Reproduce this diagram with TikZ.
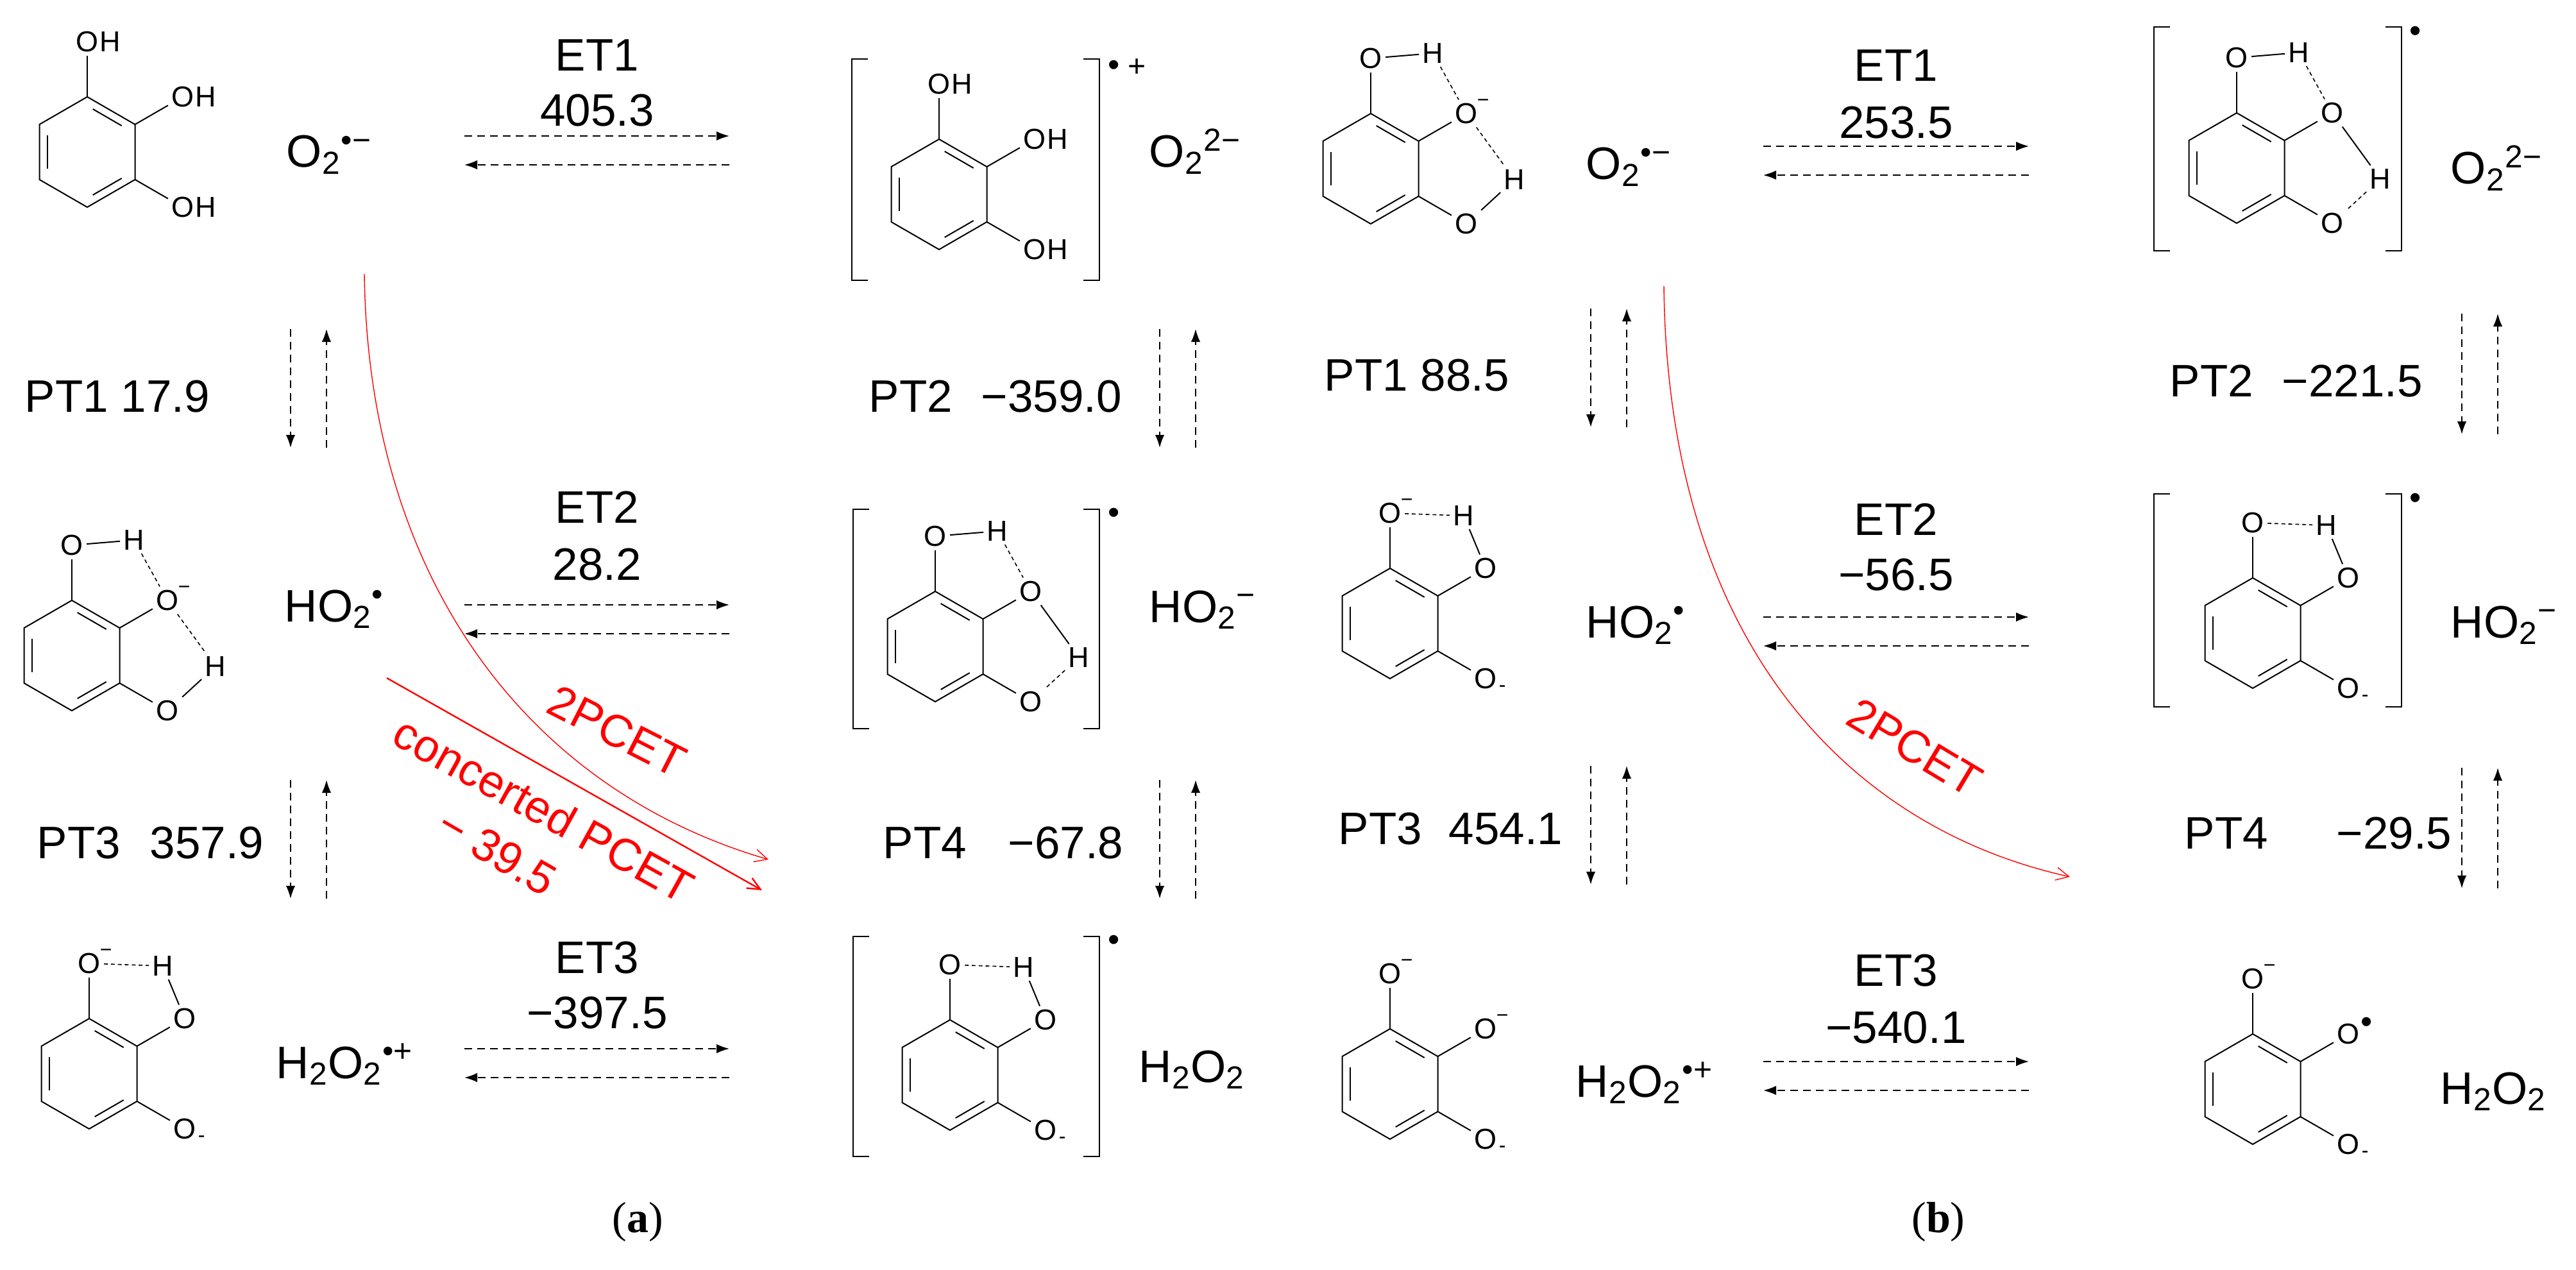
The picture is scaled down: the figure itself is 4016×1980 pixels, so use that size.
\documentclass[tikz,border=0pt]{standalone}
\usepackage{fontspec}
\setmainfont{Liberation Sans}
\newfontfamily\serifrm{Liberation Serif}
\usetikzlibrary{calc,arrows.meta}
\tikzset{
 bond/.style={line width=0.5pt},
 atom/.style={font=\fontsize{11.25}{12}\selectfont, inner sep=1.2pt},
 hatom/.style={font=\fontsize{11.25}{12}\selectfont, inner sep=0pt, anchor=base west, xshift=-1.2pt},
 big/.style={font=\fontsize{17.75}{20}\selectfont, inner sep=0pt},
 dasharr/.style={dash pattern=on 3pt off 2pt, line width=0.45pt, -{Latex[length=5pt,width=3.6pt]}},
 hb/.style={dash pattern=on 1.5pt off 1.2pt, line width=0.4pt},
 chg/.style={font=\fontsize{8}{8}\selectfont, inner sep=0pt},
 dot/.style={font=\fontsize{13}{13}\selectfont, inner sep=0pt},
 brk/.style={line width=0.5pt},
 redtxt/.style={big, text=red},
}
\newcommand\benz[3]{%
 \coordinate (#1t) at (#2,#3-86);
 \coordinate (#1ur) at (#2+74.5,#3-43);
 \coordinate (#1lr) at (#2+74.5,#3+43);
 \coordinate (#1b) at (#2,#3+86);
 \coordinate (#1ll) at (#2-74.5,#3+43);
 \coordinate (#1ul) at (#2-74.5,#3-43);
 \coordinate (#1T) at (#2,#3-172);
 \coordinate (#1R) at (#2+149,#3-86);
 \coordinate (#1S) at (#2+149,#3+86);
 \draw[bond] (#1t)--(#1ur)--(#1lr)--(#1b)--(#1ll)--(#1ul)--cycle;
 \draw[bond] (#2+8.7,#3-67)--(#2+53.7,#3-41);
 \draw[bond] (#2+53.7,#3+41)--(#2+8.7,#3+67);
 \draw[bond] (#2-62.4,#3+26)--(#2-62.4,#3-26);
}
\newcommand\oxy[1]{%
 \node[atom] (#1o1) at (#1T) {O};
 \node[atom] (#1o2) at (#1R) {O};
 \node[atom] (#1o3) at (#1S) {O};
 \draw[bond] (#1t)--(#1o1);
 \draw[bond] (#1ur)--(#1o2);
 \draw[bond] (#1lr)--(#1o3);
}
\newcommand\supm[2]{\node[chg] at ($(#1.east)+(3,-16)$) {#2};}
\newcommand\supdot[1]{\node[dot] at ($(#1.east)+(5,-14)$) {•};}
\newcommand\subm[1]{\node[chg] at ($(#1.east)+(3,16)$) {-};}
\newcommand\molOH[3]{\benz{#1}{#2}{#3}\oxy{#1}%
 \node[hatom] at (#1o1.base east) {H};
 \node[hatom] at (#1o2.base east) {H};
 \node[hatom] at (#1o3.base east) {H};}
\newcommand\molC[4]{\benz{#1}{#2}{#3}\oxy{#1}%
 \node[atom] (#1h1) at ($(#1o1)+(97,-8)$) {H};
 \node[atom] (#1h2) at ($(#1o2)+(75,103)$) {H};
 \draw[bond] (#1o1)--(#1h1);
 \draw[hb] (#1h1)--(#1o2);
 \ifnum#4=0
  \supm{#1o2}{−}
  \draw[hb] (#1o2)--(#1h2);
  \draw[bond] (#1h2)--(#1o3);
 \else
  \draw[bond] (#1o2)--(#1h2);
  \draw[hb] (#1h2)--(#1o3);
 \fi}
\newcommand\molE[4]{\benz{#1}{#2}{#3}\oxy{#1}%
 \node[atom] (#1h1) at ($(#1o1)+(115,4)$) {H};
 \draw[hb] (#1o1)--(#1h1);
 \draw[bond] (#1h1)--(#1o2);
 \ifnum#4=0 \supm{#1o1}{−}\fi
 \subm{#1o3}}
\newcommand\brackets[4]{%
 \draw[brk] (#1+25,#3)--(#1,#3)--(#1,#4)--(#1+25,#4);
 \draw[brk] (#2-25,#3)--(#2,#3)--(#2,#4)--(#2-25,#4);}
\newcommand\vpair[4]{%
 \coordinate (#1a) at (#2,#3); \coordinate (#1b) at (#2,#4);
 \coordinate (#1c) at (#2+56,#4); \coordinate (#1d) at (#2+56,#3);
 \draw[dasharr] (#1a)--(#1b); \draw[dasharr] (#1c)--(#1d);}
\newcommand\hpair[4]{%
 \coordinate (#1a) at (#2,#4); \coordinate (#1b) at (#3,#4);
 \coordinate (#1c) at (#3,#4+45); \coordinate (#1d) at (#2,#4+45);
 \draw[dasharr] (#1a)--(#1b); \draw[dasharr] (#1c)--(#1d);}
\begin{document}
\begin{tikzpicture}[x=0.25pt,y=-0.25pt]
\useasboundingbox (0,0) rectangle (4016,1980);
% ---------- panel a ----------
\molOH{mA}{136}{237}
\molOH{mB}{1464}{303}
\brackets{1328}{1714}{92}{437}
\node[dot] at (1737,106) {•}; \node[font=\fontsize{12}{12}\selectfont,inner sep=0] at (1772,106) {+};
\molC{mC}{112}{1022}{0}
\molC{mD}{1458}{1008}{1}
\brackets{1330}{1714}{794}{1136}
\node[dot] at (1737,804) {•};
\molE{mE}{139}{1674}{0}
\molE{mF}{1481}{1676}{1}
\brackets{1330}{1714}{1460}{1803}
\node[dot] at (1737,1470) {•};
% species a
\node[big,anchor=base west] (sa1) at (446,261) {O\textsubscript{2}\textsuperscript{•−}};
\node[big,anchor=base west] (sa2) at (443,969) {HO\textsubscript{2}\textsuperscript{•}};
\node[big,anchor=base west] (sa3) at (430,1681) {H\textsubscript{2}O\textsubscript{2}\textsuperscript{•+}};
\node[big,anchor=base west] (sa4) at (1791,261) {O\textsubscript{2}\textsuperscript{2−}};
\node[big,anchor=base west] (sa5) at (1791,970) {HO\textsubscript{2}\textsuperscript{−}};
\node[big,anchor=base west] (sa6) at (1775,1687) {H\textsubscript{2}O\textsubscript{2}};
% ET a
\node[big] (eta1) at (931,86) {ET1}; \node[big] (eva1) at (931,172) {405.3};
\node[big] (eta2) at (931,791) {ET2}; \node[big] (eva2) at (931,880) {28.2};
\node[big] (eta3) at (931,1493) {ET3}; \node[big] (eva3) at (931,1579) {−397.5};
\hpair{ha1}{724}{1137}{212}
\hpair{ha2}{724}{1137}{943}
\hpair{ha3}{724}{1137}{1635}
% PT a
\node[big,anchor=base west] (pa1) at (38,642) {PT1 17.9};
\node[big,anchor=base west] (pa2) at (1354,642) {PT2};
\node[big,anchor=base west] (pa2v) at (1529,642) {−359.0};
\node[big,anchor=base west] (pa3) at (57,1338) {PT3};
\node[big,anchor=base west] (pa3v) at (233,1338) {357.9};
\node[big,anchor=base west] (pa4) at (1376,1338) {PT4};
\node[big,anchor=base west] (pa4v) at (1571,1338) {−67.8};
\vpair{va1}{453}{513}{698}
\vpair{va2}{1808}{513}{698}
\vpair{va3}{453}{1216}{1401}
\vpair{va4}{1808}{1216}{1401}
% red a
\coordinate (ra0) at (568,427); \coordinate (ra1) at (1198,1340);
\draw[red,line width=0.35pt,-{Straight Barb[length=5pt,width=5pt]}] (ra0) .. controls (574,900) and (820,1230) .. (ra1);
\coordinate (sa0) at (603,1057); \coordinate (sb0) at (1188,1388);
\draw[red,line width=0.6pt,-{Straight Barb[length=5pt,width=4.5pt]}] (sa0) -- (sb0);
\node[redtxt,rotate=-27] (t2a) at (962,1140) {2PCET};
\node[redtxt,rotate=-29] (tca) at (848,1262) {concerted PCET};
\node[redtxt,rotate=-30] (tva) at (775,1328) {− 39.5};
\node[font=\serifrm\fontsize{17}{20}\selectfont,inner sep=0] (lab1) at (994,1905) {(\textbf{a})};
% ---------- panel b ----------
\molC{mG}{2137}{263}{0}
\molC{mH}{3487}{262}{1}
\brackets{3358}{3744}{42}{391}
\node[dot] at (3766,53) {•};
\molE{mI}{2167}{972}{0}
\molE{mJ}{3512}{987}{1}
\brackets{3358}{3744}{770}{1102}
\node[dot] at (3766,781) {•};
\benz{mK}{2167}{1690}\oxy{mK}
\supm{mKo1}{−}\supm{mKo2}{−}\subm{mKo3}
\benz{mL}{3512}{1698}\oxy{mL}
\supm{mLo1}{−}\supdot{mLo2}\subm{mLo3}
% species b
\node[big,anchor=base west] (sb1) at (2472,280) {O\textsubscript{2}\textsuperscript{•−}};
\node[big,anchor=base west] (sb2) at (2472,994) {HO\textsubscript{2}\textsuperscript{•}};
\node[big,anchor=base west] (sb3) at (2456,1710) {H\textsubscript{2}O\textsubscript{2}\textsuperscript{•+}};
\node[big,anchor=base west] (sb4) at (3820,287) {O\textsubscript{2}\textsuperscript{2−}};
\node[big,anchor=base west] (sb5) at (3820,994) {HO\textsubscript{2}\textsuperscript{−}};
\node[big,anchor=base west] (sb6) at (3804,1721) {H\textsubscript{2}O\textsubscript{2}};
% ET b
\node[big] (etb1) at (2956,102) {ET1}; \node[big] (evb1) at (2956,191) {253.5};
\node[big] (etb2) at (2956,810) {ET2}; \node[big] (evb2) at (2956,896) {−56.5};
\node[big] (etb3) at (2956,1513) {ET3}; \node[big] (evb3) at (2956,1602) {−540.1};
\hpair{hb1}{2749}{3163}{228}
\hpair{hb2}{2749}{3163}{962}
\hpair{hb3}{2749}{3163}{1655}
% PT b
\node[big,anchor=base west] (pb1) at (2064,609) {PT1 88.5};
\node[big,anchor=base west] (pb2) at (3382,618) {PT2};
\node[big,anchor=base west] (pb2v) at (3557,618) {−221.5};
\node[big,anchor=base west] (pb3) at (2086,1316) {PT3};
\node[big,anchor=base west] (pb3v) at (2258,1316) {454.1};
\node[big,anchor=base west] (pb4) at (3405,1323) {PT4};
\node[big,anchor=base west] (pb4v) at (3642,1323) {−29.5};
\vpair{vb1}{2480}{481}{666}
\vpair{vb2}{3838}{489}{677}
\vpair{vb3}{2480}{1194}{1379}
\vpair{vb4}{3838}{1197}{1385}
% red b
\coordinate (rb0) at (2594,446); \coordinate (rb1) at (3227,1367);
\draw[red,line width=0.35pt,-{Straight Barb[length=5pt,width=5pt]}] (rb0) .. controls (2600,1000) and (2880,1290) .. (rb1);
\node[redtxt,rotate=-31] (t2b) at (2985,1165) {2PCET};
\node[font=\serifrm\fontsize{17}{20}\selectfont,inner sep=0] (lab2) at (3022,1905) {(\textbf{b})};
\end{tikzpicture}
\end{document}
